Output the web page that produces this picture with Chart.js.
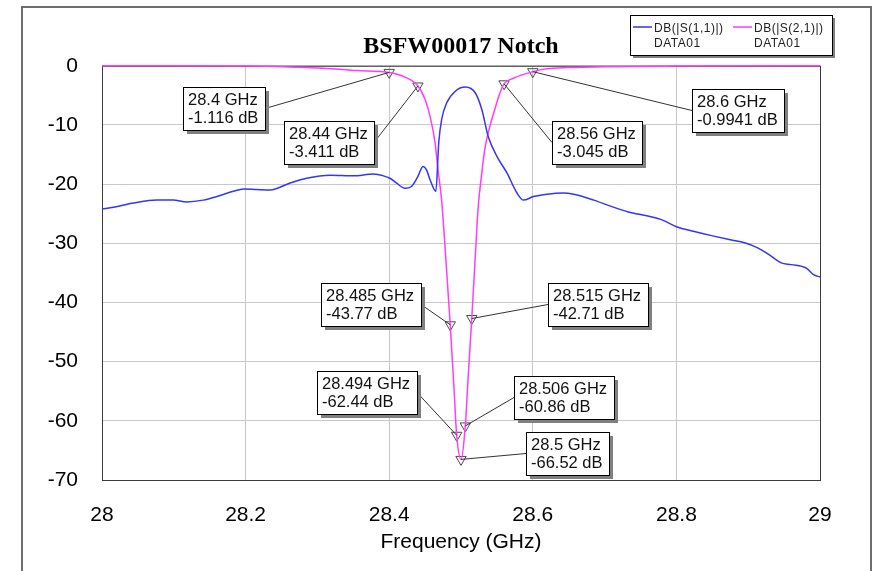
<!DOCTYPE html>
<html>
<head>
<meta charset="utf-8">
<script src="https://cdn.jsdelivr.net/npm/chart.js@4.4.0/dist/chart.umd.min.js"></script>
<style>
  body { margin: 0; background: #fff; }
</style>
</head>
<body>
<canvas id="notch" width="874" height="571"></canvas>
<script>
// S11 trace (GHz / dB)
var s11Freq = [28.000, 28.016, 28.044, 28.076, 28.099, 28.118, 28.141, 28.160, 28.183, 28.197,
  28.215, 28.234, 28.262, 28.285, 28.318, 28.350, 28.378, 28.392, 28.401, 28.410,
  28.422, 28.431, 28.440, 28.447, 28.452, 28.457, 28.465, 28.469, 28.473, 28.480,
  28.492, 28.506, 28.520, 28.529, 28.538, 28.550, 28.564, 28.578, 28.587, 28.601,
  28.620, 28.642, 28.657, 28.685, 28.710, 28.733, 28.760, 28.779, 28.800, 28.825,
  28.849, 28.875, 28.895, 28.914, 28.930, 28.946, 28.960, 28.981, 28.991, 29.000];
var s11Db = [-24.2, -23.9, -23.2, -22.7, -22.7, -23.0, -22.7, -22.1, -21.2, -20.8,
  -20.9, -21.0, -19.8, -19.0, -18.5, -18.6, -18.3, -18.6, -19.0, -19.8,
  -20.7, -20.4, -18.7, -17.0, -17.6, -19.3, -21.2, -13.0, -9.1, -6.3,
  -4.3, -3.6, -4.6, -7.4, -12.0, -15.3, -18.1, -21.5, -22.7, -22.1,
  -21.7, -21.5, -21.7, -22.7, -23.8, -24.7, -25.4, -26.0, -27.2, -28.0,
  -28.7, -29.4, -29.9, -30.8, -32.0, -33.3, -33.6, -34.2, -35.3, -35.7];

// S21 trace (the notch)
var s21Freq = [28.000, 28.100, 28.206, 28.260, 28.308, 28.355, 28.400, 28.420, 28.440, 28.450,
  28.457, 28.464, 28.468, 28.473, 28.478, 28.485, 28.490, 28.494, 28.500, 28.506,
  28.510, 28.515, 28.520, 28.524, 28.529, 28.533, 28.540, 28.547, 28.553, 28.560,
  28.573, 28.600, 28.619, 28.650, 28.700, 28.800, 29.000];
var s21Db = [0, 0, -0.05, -0.2, -0.4, -0.8, -1.116, -1.8, -3.411, -5.7,
  -8.6, -13.1, -17.6, -22.7, -31.0, -43.77, -54.0, -62.44, -66.52, -60.86,
  -52.5, -42.71, -32.0, -23.8, -18.1, -14.2, -10.3, -7.4, -5.0, -3.045,
  -2.1, -0.9941, -0.5, -0.3, -0.15, -0.05, 0];

// markers placed on S21
var markerFreq = [28.4, 28.44, 28.485, 28.494, 28.5, 28.506, 28.515, 28.56, 28.6];
var markerDb = [-1.116, -3.411, -43.77, -62.44, -66.52, -60.86, -42.71, -3.045, -0.9941];

var xTicks = [28, 28.2, 28.4, 28.6, 28.8, 29];
var yTicks = [0, -10, -20, -30, -40, -50, -60, -70];
var seriesNames = ['DB(|S(1,1)|)', 'DB(|S(2,1)|)'];
var sourceName = 'DATA01';

// where each marker's readout box sits, relative to the marker (px)
var boxOffsets = [[-206, 15], [-134, 35], [-129, -42], [-140, -64], [65, -27],
  [49, -50], [76, -36], [48, 37], [159, 17]];

var sansFont = '"Liberation Sans", Arial, sans-serif';
Chart.defaults.font.family = sansFont;

function toPoints(xs, ys) {
  return xs.map(function (x, i) { return { x: x, y: ys[i] }; });
}

// white page, outer frame, plot border, legend
var framePlugin = {
  id: 'frame',
  beforeDraw: function (chart) {
    var ctx = chart.ctx;
    ctx.save();
    ctx.fillStyle = '#fff';
    ctx.fillRect(0, 0, chart.width, chart.height);
    ctx.strokeStyle = '#6e6e6e';
    ctx.lineWidth = 2;
    ctx.beginPath();
    ctx.moveTo(22, chart.height);
    ctx.lineTo(22, 7);
    ctx.lineTo(871, 7);
    ctx.lineTo(871, chart.height);
    ctx.stroke();
    ctx.restore();
  },
  beforeDatasetsDraw: function (chart) {
    var a = chart.chartArea, ctx = chart.ctx;
    ctx.save();
    ctx.strokeStyle = '#3c3c3c';
    ctx.lineWidth = 1;
    ctx.strokeRect(a.left + 0.5, a.top + 0.5, a.right - a.left, a.bottom - a.top);
    ctx.restore();
  },
  afterDraw: function (chart) {
    var ctx = chart.ctx;
    var lx = 630, ly = 15, lw = 202, lh = 40;
    ctx.save();
    ctx.fillStyle = '#808080';
    ctx.fillRect(lx + 3, ly + 3, lw, lh);
    ctx.fillStyle = '#fff';
    ctx.fillRect(lx, ly, lw, lh);
    ctx.strokeStyle = '#000';
    ctx.lineWidth = 1;
    ctx.strokeRect(lx + 0.5, ly + 0.5, lw, lh);
    ctx.font = '12px ' + sansFont;
    ctx.letterSpacing = '0.5px';
    ctx.textBaseline = 'alphabetic';
    for (var i = 0; i < 2; i++) {
      var ds = chart.data.datasets[i];
      var x0 = lx + 3 + i * 100;
      ctx.strokeStyle = ds.borderColor;
      ctx.lineWidth = 1.5;
      ctx.beginPath();
      ctx.moveTo(x0, ly + 12);
      ctx.lineTo(x0 + 19, ly + 12);
      ctx.stroke();
      ctx.fillStyle = '#222';
      ctx.fillText(ds.label, x0 + 21, ly + 17);
      ctx.fillText(sourceName, x0 + 21, ly + 32);
    }
    ctx.restore();
  }
};

// marker readout boxes with leader lines
var readoutPlugin = {
  id: 'readouts',
  afterDatasetsDraw: function (chart) {
    var ctx = chart.ctx, xs = chart.scales.x, ys = chart.scales.y;
    ctx.save();
    ctx.font = '16.5px ' + sansFont;
    ctx.textBaseline = 'alphabetic';
    markerFreq.forEach(function (f, i) {
      var px = xs.getPixelForValue(f), py = ys.getPixelForValue(markerDb[i]);
      var lines = [f + ' GHz', markerDb[i] + ' dB'];
      var w = Math.ceil(Math.max(ctx.measureText(lines[0]).width, ctx.measureText(lines[1]).width)) + 11;
      var h = 43;
      var bx = Math.round(px + boxOffsets[i][0]), by = Math.round(py + boxOffsets[i][1]);
      var ax = boxOffsets[i][0] < 0 ? bx + w : bx;
      ctx.strokeStyle = '#333';
      ctx.lineWidth = 1;
      ctx.beginPath();
      ctx.moveTo(ax, by + h / 2);
      ctx.lineTo(px, py);
      ctx.stroke();
      ctx.fillStyle = '#808080';
      ctx.fillRect(bx + 4, by + 4, w, h);
      ctx.fillStyle = '#fff';
      ctx.fillRect(bx, by, w, h);
      ctx.strokeStyle = '#000';
      ctx.strokeRect(bx + 0.5, by + 0.5, w, h);
      ctx.fillStyle = '#111';
      ctx.fillText(lines[0], bx + 5, by + 18);
      ctx.fillText(lines[1], bx + 5, by + 36);
    });
    ctx.restore();
  }
};

new Chart(document.getElementById('notch'), {
  type: 'line',
  data: {
    datasets: [{
      label: seriesNames[0],
      data: toPoints(s11Freq, s11Db),
      borderColor: '#3535f5',
      borderWidth: 1.5,
      pointRadius: 0,
      cubicInterpolationMode: 'monotone',
      clip: 3
    }, {
      label: seriesNames[1],
      data: toPoints(s21Freq, s21Db),
      borderColor: '#ff3cff',
      borderWidth: 1.5,
      pointRadius: 0,
      cubicInterpolationMode: 'monotone',
      clip: 3
    }, {
      label: 'markers',
      data: toPoints(markerFreq, markerDb),
      showLine: false,
      pointStyle: 'triangle',
      rotation: 180,
      pointRadius: 6,
      borderWidth: 1,
      borderColor: '#4a4a4a',
      backgroundColor: 'rgba(0,0,0,0)'
    }]
  },
  options: {
    responsive: false,
    animation: false,
    events: [],
    layout: { padding: { top: 0, right: 54, bottom: 0, left: 0 } },
    plugins: {
      legend: { display: false },
      tooltip: { enabled: false },
      title: {
        display: true,
        fullSize: false,
        text: 'BSFW00017 Notch',
        color: '#000',
        font: { family: '"Liberation Serif", "Times New Roman", serif', size: 24, weight: 'bold' },
        padding: { top: 32, bottom: 5 }
      }
    },
    scales: {
      x: {
        type: 'linear',
        min: 28,
        max: 29,
        afterBuildTicks: function (s) { s.ticks = xTicks.map(function (v) { return { value: v }; }); },
        afterFit: function (s) { s.height = 91; },
        grid: { color: '#c8c8c8', drawTicks: false },
        border: { display: false },
        ticks: {
          padding: 23, color: '#000', maxRotation: 0, autoSkip: false,
          font: { size: 21 },
          callback: function (v) { return String(v); }
        },
        title: {
          display: true, text: 'Frequency (GHz)', color: '#000',
          font: { size: 21 }, padding: { top: 0, bottom: 16 }
        }
      },
      y: {
        min: -70,
        max: 0,
        afterBuildTicks: function (s) { s.ticks = yTicks.map(function (v) { return { value: v }; }); },
        afterFit: function (s) { s.width = 102; },
        grid: { color: '#c8c8c8', drawTicks: false },
        border: { display: false },
        ticks: {
          padding: 24, color: '#000', autoSkip: false,
          font: { size: 21 },
          callback: function (v) { return String(v); }
        }
      }
    }
  },
  plugins: [framePlugin, readoutPlugin]
});
</script>
</body>
</html>
